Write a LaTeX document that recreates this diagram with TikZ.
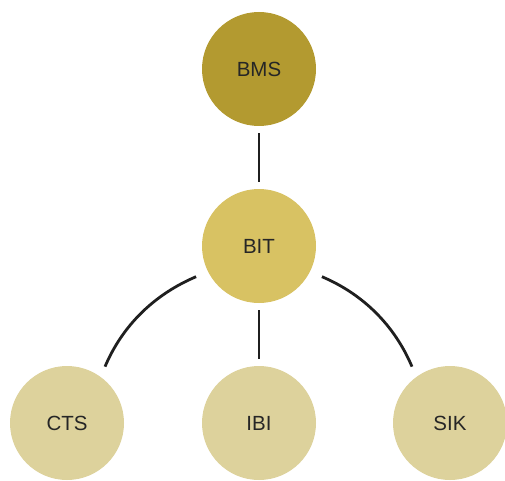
\documentclass[tikz,border=0pt]{standalone}
\usepackage{fontspec}
\setmainfont{Liberation Sans}
\usepackage{xcolor}
\usetikzlibrary{positioning}
\definecolor{goldDark}{HTML}{B39A30}
\definecolor{goldMid}{HTML}{D8C263}
\definecolor{goldPale}{HTML}{DDD29C}
\definecolor{ink}{HTML}{262626}
\tikzset{
	unit/.style={circle, minimum size=114pt, inner sep=0pt, text=ink,
		font=\fontsize{20.5}{20.5}\selectfont},
	link/.style={line width=2.8pt, black!88},
}

\begin{document}
\begin{tikzpicture}[x=1pt,y=1pt]
		\useasboundingbox (0,0) rectangle (505,480);
		\node[unit, fill=goldDark] (bms) at (259, 411) {BMS};
		\node[unit, fill=goldMid]  (bit) at (259, 234) {BIT};
		\node[unit, fill=goldPale] (cts) at (67, 57) {CTS};
		\node[unit, fill=goldPale] (ibi) at (259, 57) {IBI};
		\node[unit, fill=goldPale] (sik) at (450, 57) {SIK};
		\draw[link, shorten <=7pt, shorten >=7pt] (bms) -- (bit);
		\draw[link, shorten <=7pt, shorten >=7pt] (bit) -- (ibi);
		\draw[link] ([shift={(206:70)}]bit.center) to[out=203, in=67, looseness=.9] ([shift={(56:68)}]cts.center);
		\draw[link] ([shift={(334:70)}]bit.center) to[out=337, in=113, looseness=.9] ([shift={(124:68)}]sik.center);
    \end{tikzpicture}
\end{document}
